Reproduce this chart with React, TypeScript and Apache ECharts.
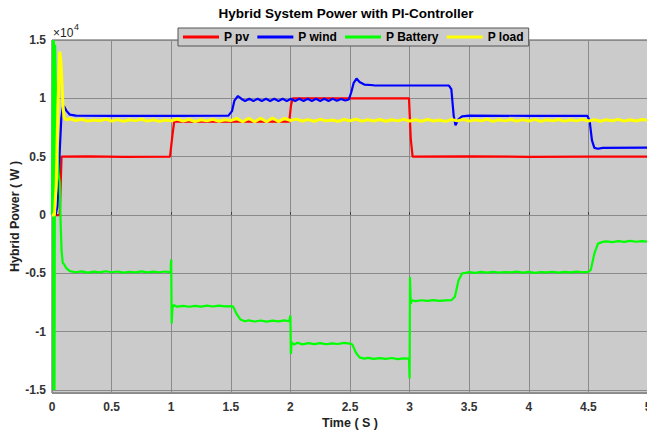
import React, { useEffect, useRef } from "react";
import * as echarts from "echarts";

const chartTitle = "Hybrid System Power with PI-Controller";
const seriesNames = ["P pv", "P wind", "P Battery", "P load"];
const seriesColors = ["#ff0000", "#0000ff", "#00ff00", "#ffff00"];
const xTickLabels = ["0", "0.5", "1", "1.5", "2", "2.5", "3", "3.5", "4", "4.5", "5"];

const pvData: [number, number][] = [
  [0, 0], [0.065, 0], [0.08, 5000], [0.3, 5030], [0.6, 4990], [0.99, 5010],
  [1.01, 6800], [1.025, 8000], [1.5, 8010], [1.99, 8000], [2.005, 9400], [2.02, 10000],
  [2.5, 10010], [2.995, 10000], [3.01, 6500], [3.025, 5000], [3.5, 5020], [4.0, 4990],
  [4.5, 5010], [5.0, 5000],
];

const windData: [number, number][] = [
  [0, 0], [0.03, 0], [0.045, 700], [0.055, 2500], [0.065, 5500], [0.078, 8300], [0.09, 9200],
  [0.1, 9350], [0.12, 8950], [0.15, 8600], [0.2, 8520], [0.5, 8500], [1.0, 8500], [1.48, 8520],
  [1.51, 8900], [1.53, 9800], [1.56, 10200], [1.59, 9950], [1.62, 9780], [1.655, 9960],
  [1.69, 9780], [1.725, 9960], [1.76, 9780], [1.795, 9960], [1.83, 9780], [1.865, 9960],
  [1.9, 9780], [1.935, 9960], [1.97, 9780], [2.005, 9960], [2.04, 9780], [2.075, 9960],
  [2.11, 9780], [2.145, 9960], [2.18, 9780], [2.215, 9960], [2.25, 9780], [2.285, 9960],
  [2.32, 9780], [2.355, 9960], [2.39, 9800], [2.425, 9950], [2.46, 9820], [2.49, 9900],
  [2.51, 10500], [2.53, 11300], [2.555, 11700], [2.58, 11400], [2.62, 11180], [2.7, 11120],
  [3.0, 11100], [3.33, 11100], [3.35, 10800], [3.37, 8500], [3.385, 7700], [3.41, 8200],
  [3.44, 8450], [3.5, 8520], [4.0, 8500], [4.49, 8510], [4.51, 8100], [4.53, 6400],
  [4.55, 5750], [4.58, 5680], [4.62, 5750], [5.0, 5780],
];

const batteryData: [number, number][] = [
  [0, 0], [0.008, 15000], [0.012, -15000], [0.016, 15000], [0.021, -15000], [0.026, 14600],
  [0.035, 9000], [0.045, 5500], [0.055, 3500], [0.065, 2800], [0.072, -500], [0.08, -3000],
  [0.09, -4100], [0.1, -4200], [0.12, -4550], [0.15, -4800], [0.2, -4900], [0.25, -4830],
  [0.3, -4930], [0.35, -4850], [0.4, -4910], [0.45, -4820], [0.5, -4900], [0.55, -4840],
  [0.6, -4930], [0.65, -4860], [0.7, -4910], [0.75, -4830], [0.8, -4920], [0.85, -4850],
  [0.9, -4900], [0.95, -4840], [0.995, -4900], [1.0, -3800], [1.004, -9300], [1.01, -8000],
  [1.02, -7700], [1.05, -7850], [1.1, -7780], [1.15, -7860], [1.2, -7790], [1.25, -7850],
  [1.3, -7760], [1.35, -7840], [1.4, -7770], [1.45, -7830], [1.5, -7800], [1.52, -7850],
  [1.55, -8500], [1.58, -8950], [1.62, -9100], [1.65, -9020], [1.7, -9120], [1.75, -9040],
  [1.8, -9130], [1.85, -9050], [1.9, -9110], [1.95, -9030], [1.99, -9100], [2.0, -8600],
  [2.004, -11900], [2.01, -10900], [2.03, -11100], [2.06, -10950], [2.1, -11080],
  [2.15, -10980], [2.2, -11060], [2.25, -10970], [2.3, -11070], [2.35, -10990],
  [2.4, -11050], [2.45, -10960], [2.5, -11020], [2.52, -11100], [2.55, -11800],
  [2.58, -12200], [2.62, -12300], [2.65, -12240], [2.7, -12330], [2.75, -12260],
  [2.8, -12320], [2.85, -12250], [2.9, -12350], [2.95, -12280], [2.995, -12300],
  [3.0, -14000], [3.003, -5300], [3.01, -7600], [3.02, -7300], [3.05, -7380], [3.1, -7300],
  [3.15, -7360], [3.2, -7290], [3.25, -7350], [3.3, -7320], [3.35, -7300], [3.38, -7000],
  [3.41, -5600], [3.44, -5000], [3.47, -4950], [3.5, -4880], [3.55, -4950], [3.6, -4870],
  [3.65, -4930], [3.7, -4860], [3.75, -4940], [3.8, -4880], [3.85, -4920], [3.9, -4850],
  [3.95, -4930], [4.0, -4870], [4.05, -4950], [4.1, -4880], [4.15, -4910], [4.2, -4860],
  [4.25, -4940], [4.3, -4870], [4.35, -4920], [4.4, -4850], [4.45, -4900], [4.5, -4880],
  [4.52, -4700], [4.55, -3300], [4.58, -2450], [4.62, -2300], [4.65, -2250], [4.7, -2320],
  [4.75, -2230], [4.8, -2300], [4.85, -2210], [4.9, -2290], [4.95, -2240], [5.0, -2280],
];

const loadData: [number, number][] = [
  [0, 0], [0.02, 0], [0.035, 2500], [0.05, 9500], [0.065, 14000], [0.075, 13200],
  [0.09, 9800], [0.1, 8400], [0.12, 8150], [0.15, 8250], [0.2, 8100], [0.25, 8200],
  [0.3, 8050], [0.35, 8150], [0.4, 8080], [0.45, 8220], [0.5, 8060], [0.55, 8180],
  [0.6, 8040], [0.65, 8160], [0.7, 8090], [0.75, 8210], [0.8, 8050], [0.85, 8170],
  [0.9, 8030], [0.95, 8150], [1.0, 8080], [1.05, 8230], [1.1, 8060], [1.15, 8190],
  [1.2, 8020], [1.25, 8160], [1.3, 8070], [1.35, 8200], [1.4, 8040], [1.45, 8170],
  [1.5, 8090], [1.55, 8280], [1.6, 7990], [1.65, 8300], [1.7, 8000], [1.75, 8290],
  [1.8, 7990], [1.85, 8310], [1.9, 8010], [1.95, 8280], [2.0, 8100], [2.05, 8220],
  [2.1, 8060], [2.15, 8180], [2.2, 8040], [2.25, 8200], [2.3, 8070], [2.35, 8150],
  [2.4, 8030], [2.45, 8190], [2.5, 8080], [2.55, 8210], [2.6, 8050], [2.65, 8170],
  [2.7, 8060], [2.75, 8190], [2.8, 8040], [2.85, 8160], [2.9, 8070], [2.95, 8200],
  [3.0, 8060], [3.05, 8170], [3.1, 8040], [3.15, 8190], [3.2, 8060], [3.25, 8150],
  [3.3, 8030], [3.35, 8180], [3.4, 8070], [3.45, 8200], [3.5, 8050], [3.55, 8170],
  [3.6, 8080], [3.65, 8210], [3.7, 8040], [3.75, 8160], [3.8, 8070], [3.85, 8190],
  [3.9, 8050], [3.95, 8180], [4.0, 8060], [4.05, 8200], [4.1, 8040], [4.15, 8170],
  [4.2, 8080], [4.25, 8190], [4.3, 8050], [4.35, 8160], [4.4, 8070], [4.45, 8200],
  [4.5, 8060], [4.55, 8180], [4.6, 8040], [4.65, 8170], [4.7, 8080], [4.75, 8200],
  [4.8, 8050], [4.85, 8170], [4.9, 8060], [4.95, 8190], [5.0, 8100],
];

const FONT = "'Liberation Sans', Arial, Helvetica, sans-serif";

export default function App() {
  const ref = useRef<HTMLDivElement>(null);

  useEffect(() => {
    if (!ref.current) return;
    const chart = echarts.init(ref.current, undefined, { renderer: "svg" });
    const allData = [pvData, windData, batteryData, loadData];
    const widths = [2.2, 2.2, 2.2, 3];

    chart.setOption({
      animation: false,
      backgroundColor: "#ffffff",
      textStyle: { fontFamily: FONT },
      grid: {
        left: 52,
        top: 40,
        width: 596,
        height: 353,
        show: true,
        containLabel: false,
        outerBoundsMode: "none",
        backgroundColor: "#cbcbcb",
        borderColor: "#555555",
        borderWidth: 1,
      },
      legend: {
        left: 178,
        top: 28,
        orient: "horizontal",
        padding: [3, 5, 3, 5],
        itemGap: 8,
        itemWidth: 36,
        itemHeight: 3,
        icon: "rect",
        selectedMode: false,
        backgroundColor: "#cbcbcb",
        borderColor: "#555555",
        borderWidth: 1,
        borderRadius: 0,
        z: 10,
        textStyle: { fontFamily: FONT, fontWeight: "bold", fontSize: 12, color: "#000" },
        data: seriesNames,
      },
      graphic: [
        {
          type: "text",
          x: 346,
          y: 13,
          z: 20,
          style: {
            text: chartTitle,
            align: "center",
            verticalAlign: "middle",
            fontFamily: FONT,
            fontWeight: "bold",
            fontSize: 13.5,
            fill: "#000",
          },
        },
        {
          type: "text",
          x: 53,
          y: 33,
          z: 20,
          style: {
            text: "×10",
            align: "left",
            verticalAlign: "middle",
            fontFamily: FONT,
            fontSize: 12,
            fill: "#222",
          },
        },
        {
          type: "text",
          x: 74,
          y: 27,
          z: 20,
          style: {
            text: "4",
            align: "left",
            verticalAlign: "middle",
            fontFamily: FONT,
            fontSize: 9,
            fill: "#222",
          },
        },
      ],
      xAxis: {
        type: "value",
        min: 0,
        max: 5,
        interval: 0.5,
        name: "Time ( S )",
        nameLocation: "middle",
        nameGap: 23,
        nameMoveOverlap: false,
        nameTextStyle: { fontFamily: FONT, fontWeight: "bold", fontSize: 12.5, color: "#222" },
        axisLine: { show: false },
        axisTick: { show: true, inside: true, length: 3, lineStyle: { color: "#444" } },
        axisLabel: {
          margin: 8,
          fontFamily: FONT,
          fontWeight: "bold",
          fontSize: 12,
          color: "#333",
          hideOverlap: false,
          formatter: (v: number) => {
            const i = Math.round(v / 0.5);
            return xTickLabels[i] ?? "";
          },
        },
        splitLine: { show: true, lineStyle: { color: "#8a8a8a", width: 1 } },
      },
      yAxis: {
        type: "value",
        min: -15250,
        max: 15000,
        splitNumber: 6,
        name: "Hybrid Power ( W )",
        nameLocation: "middle",
        nameGap: 31,
        nameMoveOverlap: false,
        nameRotate: 90,
        nameTextStyle: { fontFamily: FONT, fontWeight: "bold", fontSize: 12.5, color: "#222" },
        axisLine: { show: false },
        axisTick: { show: false },
        axisLabel: {
          margin: 6,
          fontFamily: FONT,
          fontWeight: "bold",
          fontSize: 12,
          color: "#333",
          formatter: (v: number) => {
            if (Math.abs(v % 5000) > 1) return "";
            return String(v / 10000);
          },
        },
        splitLine: { show: true, lineStyle: { color: "#8a8a8a", width: 1 } },
      },
      series: seriesNames.map((name, i) => ({
        name,
        type: "line",
        data: allData[i],
        showSymbol: false,
        symbol: "none",
        color: seriesColors[i],
        lineStyle: { color: seriesColors[i], width: widths[i] },
        z: 2 + i,
      })),
    });

    return () => chart.dispose();
  }, []);

  return (
    <div
      ref={ref}
      style={{ position: "absolute", left: 0, top: 0, width: 647, height: 432, background: "#fff" }}
    />
  );
}
